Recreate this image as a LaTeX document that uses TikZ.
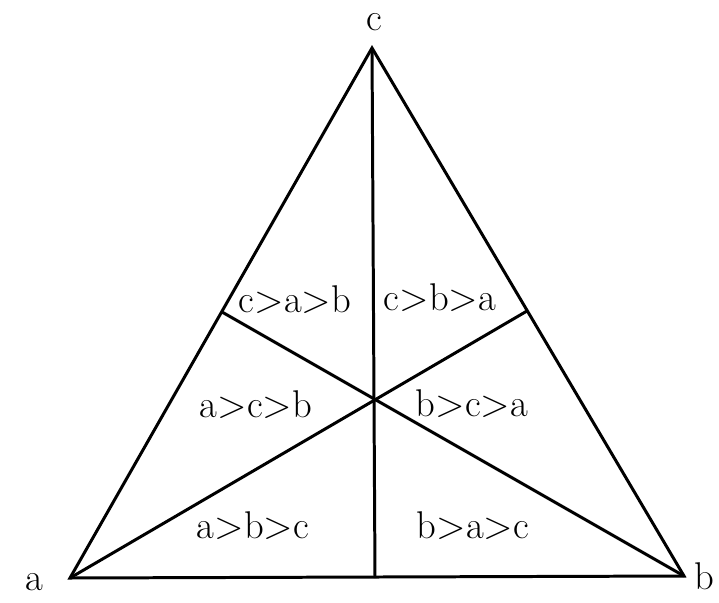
\documentclass[tikz,border=0pt]{standalone}
\begin{document}
\begin{tikzpicture}[x=0.02cm, y=-0.02cm, line width=1.7pt,
    region/.style={font=\fontsize{22}{26}\selectfont},
    vertex/.style={font=\fontsize{22}{26}\selectfont}]
\useasboundingbox (0,0) rectangle (719,602);

    \coordinate (A) at (70,578);
    \coordinate (B) at (684,576);
    \coordinate (C) at (372,48);
    \coordinate (MA) at (222,312);
    \coordinate (MB) at (527,311);
    \coordinate (MC) at (375,578);

    \draw (A) -- (B) -- (C) -- cycle;
    \draw (C) -- (MC);
    \draw (A) -- (MB);
    \draw (B) -- (MA);

    \node[vertex] (la) at (34,582) {a};
    \node[vertex] (lb) at (704,576) {b};
    \node[vertex] (lc) at (374,22) {c};

    \node[region] (cab) at (295,300) {c>a>b};
    \node[region] (cba) at (440,298) {c>b>a};
    \node[region] (acb) at (256,405) {a>c>b};
    \node[region] (bca) at (472,404) {b>c>a};
    \node[region] (abc) at (253,526) {a>b>c};
    \node[region] (bac) at (473,526) {b>a>c};
\end{tikzpicture}
\end{document}
